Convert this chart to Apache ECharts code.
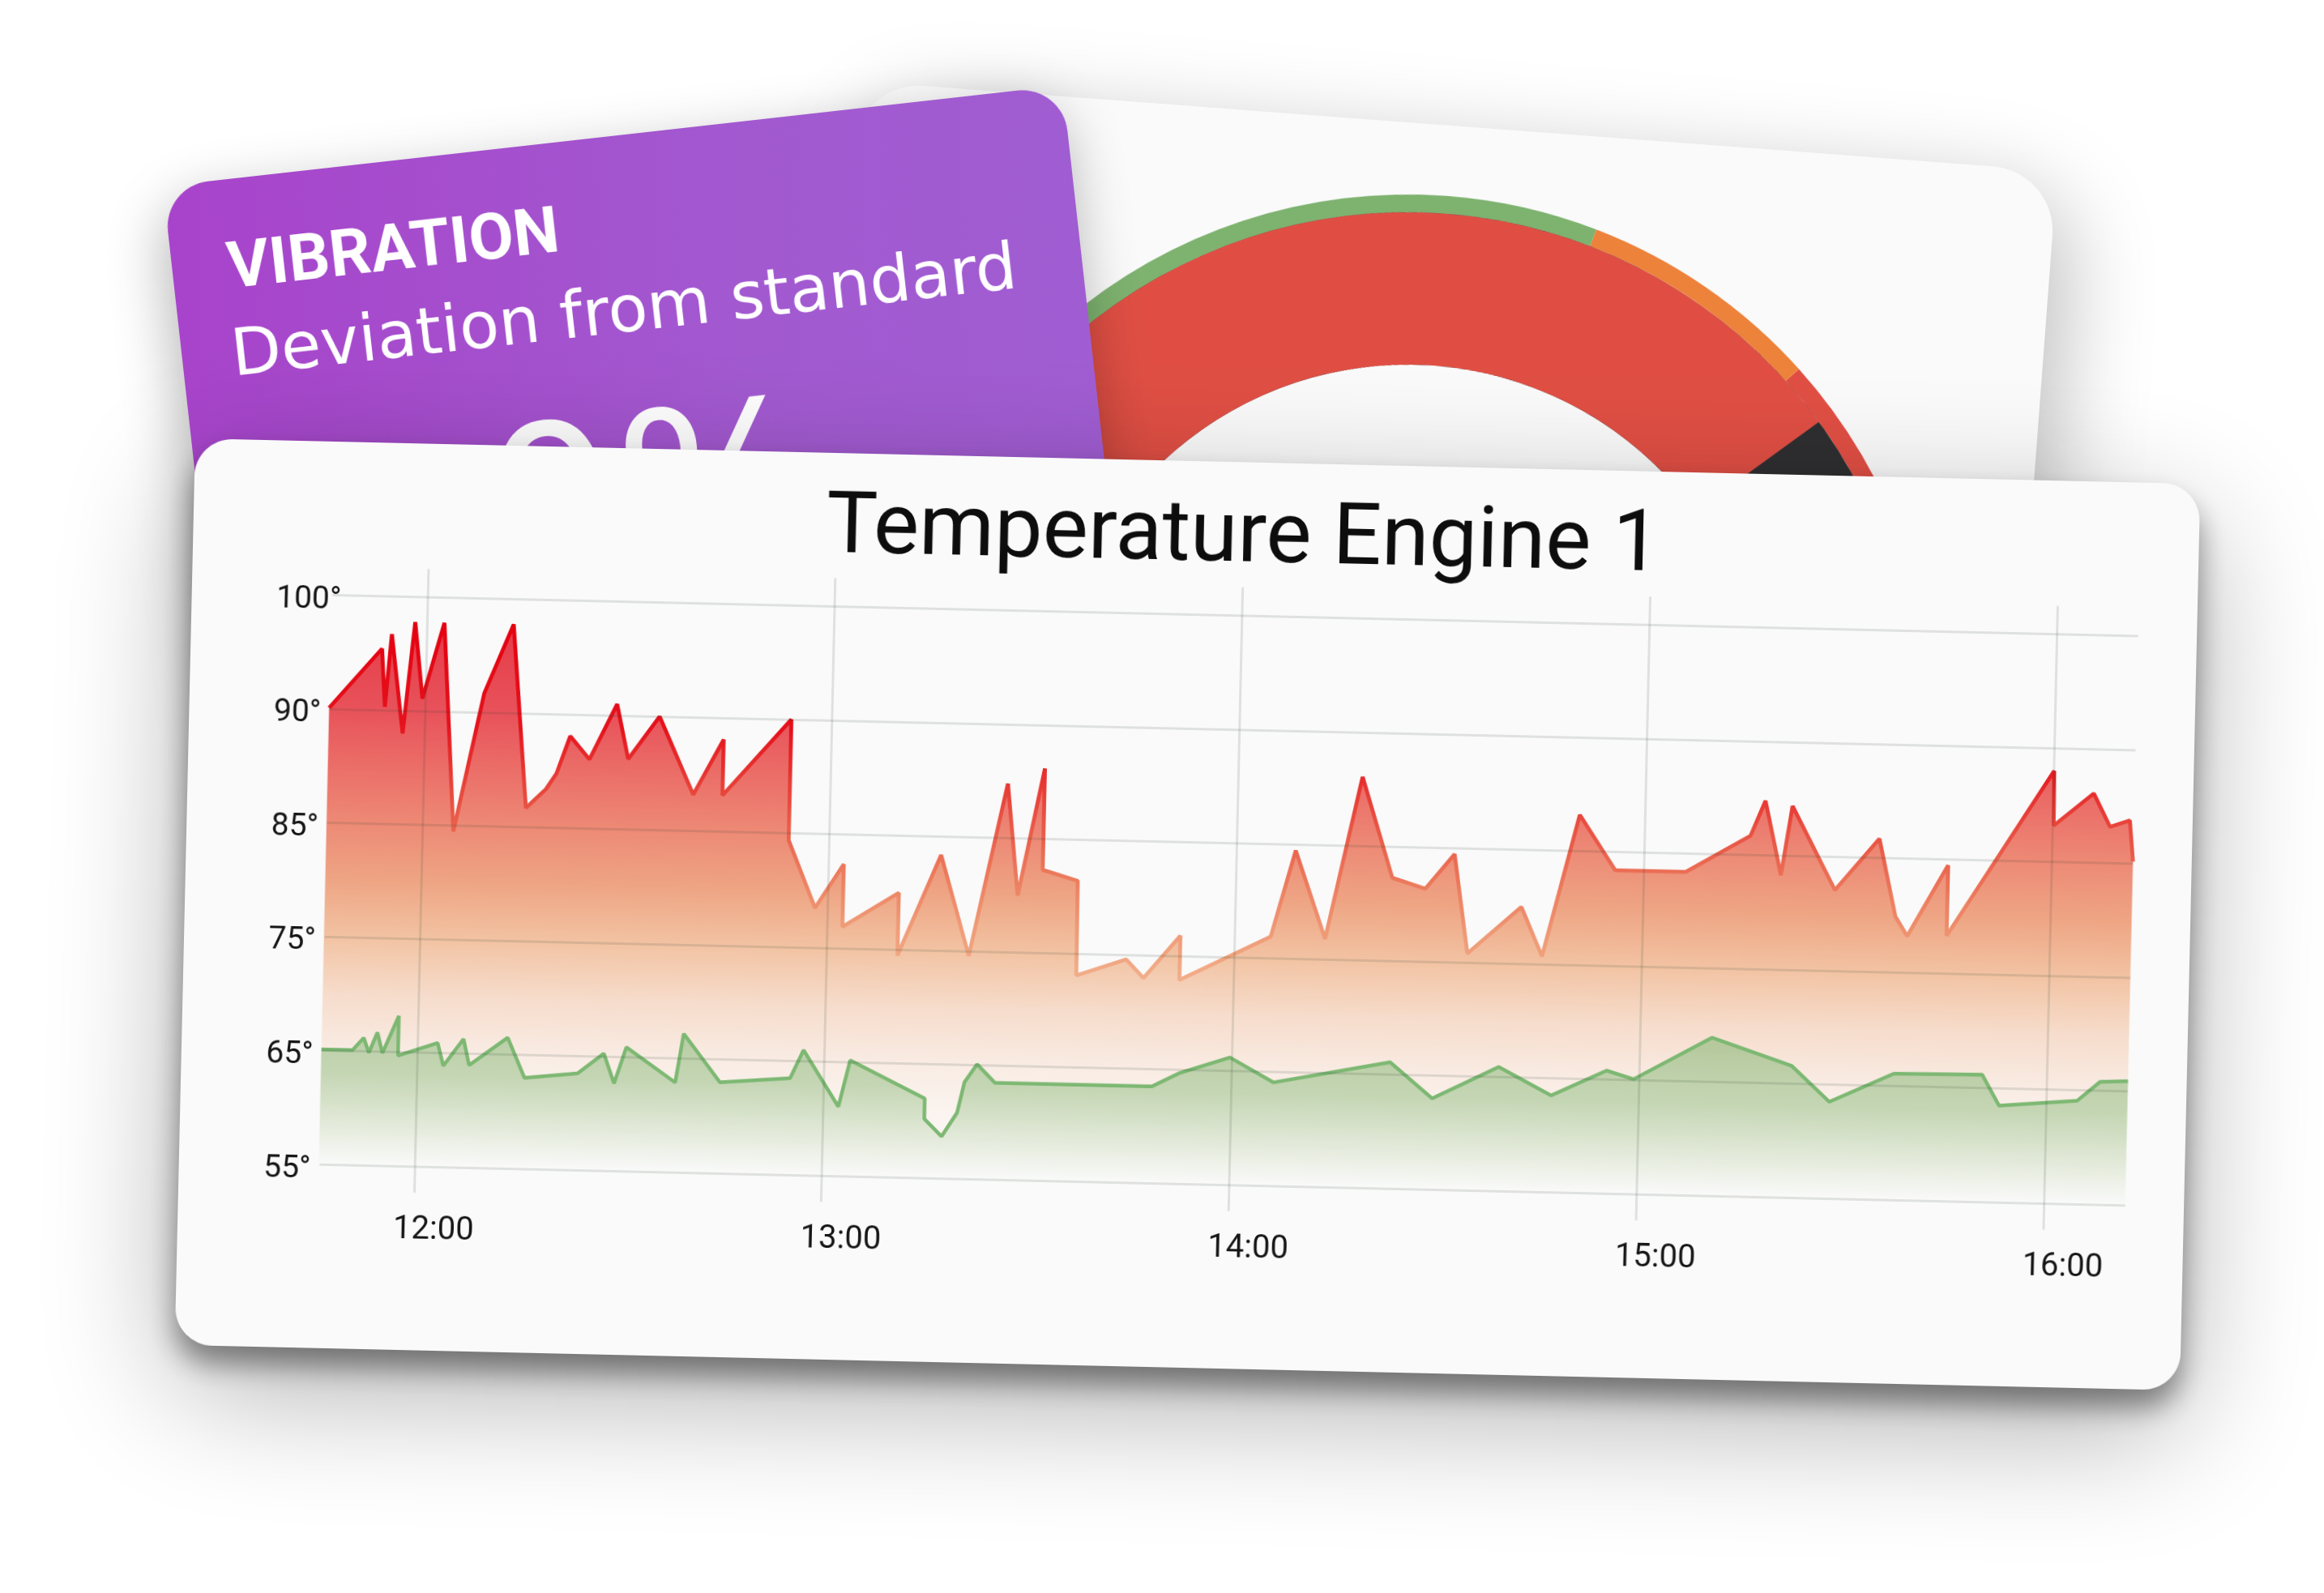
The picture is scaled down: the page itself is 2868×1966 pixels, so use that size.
<!DOCTYPE html>
<html>
<head>
<meta charset="utf-8">
<title>Temperature Engine 1</title>
<script src="https://cdn.jsdelivr.net/npm/echarts@6.0.0/dist/echarts.min.js"></script>
<style>
  html, body { margin: 0; padding: 0; background: #ffffff; }
  body { position: relative; width: 2868px; height: 1966px; overflow: hidden; }
  .card { position: absolute; overflow: hidden; background: #fafafa; }
  /* back card with the gauge */
  #gauge-card {
    left: 1060px; top: 99.9px; width: 1483px; height: 1100px;
    border-radius: 80px; transform-origin: 0 0; transform: rotate(4.3deg);
    box-shadow: 20px 30px 110px rgba(0, 0, 0, 0.26); z-index: 1;
  }
  /* purple vibration card */
  #vibration-card {
    left: 201px; top: 230px; width: 1117px; height: 900px;
    border-radius: 56px; transform-origin: 0 0; transform: rotate(-6.4deg);
    background: linear-gradient(95deg, #a843cb 0%, #a259d0 60%, #a05dd2 100%);
    box-shadow: -6px 24px 70px rgba(0, 0, 0, 0.3); z-index: 2;
  }
  /* front card with the line chart */
  #temp-card {
    left: 227.5px; top: 569.25px; width: 2475px; height: 1119px;
    border-radius: 46px; transform: rotate(1.3deg);
    box-shadow: 0 22px 34px rgba(0, 0, 0, 0.42), 0 50px 160px rgba(0, 0, 0, 0.32);
    z-index: 3;
  }
</style>
</head>
<body>
<div id="gauge-card" class="card"></div>
<div id="vibration-card" class="card"></div>
<div id="temp-card" class="card"></div>

<script>
// minutes after 12:00 and engine temperature
const redMinutes = [-14.1, -6.5, -5.9, -5.1, -3.2, -1.7, -0.4, 2.6, 4.6, 8.7, 12.8, 15.2, 18.1, 19.6, 21.5,
  24.4, 28.3, 30.1, 34.6, 39.8, 44.1, 44.1, 54.0, 54.0, 58.1, 62.2, 62.2, 70.4, 70.4, 76.5, 80.9,
  86.1, 87.9, 91.5, 91.5, 96.7, 96.8, 104.1, 106.7, 112.0, 112.0, 125.3, 128.7, 133.3, 138.3, 143.0,
  147.9, 152.1, 154.3, 162.1, 165.3, 170.4, 175.8, 186.2, 195.6, 197.7, 200.2, 201.7, 208.2, 214.6,
  217.2, 219.0, 224.8, 224.8, 240.1, 240.2, 246.0, 248.5, 251.4, 252.0]
const redValues = [90.1, 95.4, 90.3, 96.7, 88.0, 97.8, 91.1, 97.8, 79.5, 91.7, 97.8, 81.7, 83.4, 84.8, 88.1,
  86.1, 91.0, 86.2, 90.0, 83.2, 88.1, 83.2, 90.0, 79.4, 73.5, 77.4, 71.9, 75.0, 69.5, 78.4, 69.6,
  84.8, 75.0, 86.2, 77.3, 76.4, 68.1, 69.6, 68.0, 71.8, 67.9, 71.9, 79.5, 71.8, 86.1, 77.3,
  76.4, 79.5, 70.8, 75.0, 70.7, 83.2, 78.4, 78.4, 81.7, 84.8, 78.3, 84.4, 77.1, 81.7,
  74.9, 73.2, 79.5, 73.3, 88.0, 83.2, 86.1, 83.2, 83.8, 80.2]

// minutes after 12:00 and reference (green) temperature
const greenMinutes = [-14.1, -9.5, -7.9, -7.1, -5.9, -5.1, -2.8, -2.8, 3.0, 3.9, 6.8, 7.7, 13.3, 15.9, 23.7,
  27.5, 29.1, 30.8, 38.1, 39.2, 44.7, 55.0, 56.9, 62.2, 63.8, 74.9, 74.9, 77.5, 79.7, 80.7, 82.5,
  85.2, 108.3, 112.2, 119.7, 126.2, 143.3, 149.6, 159.3, 167.1, 175.2, 179.2, 190.6, 202.4, 208.1,
  217.5, 230.5, 233.1, 244.6, 247.9, 252.0]
const greenValues = [60.1, 60.1, 61.2, 59.9, 61.7, 59.9, 63.2, 59.7, 60.9, 58.9, 61.3, 59.0, 61.5, 58.0, 58.5,
  60.3, 57.7, 60.9, 57.9, 62.2, 58.0, 58.5, 61.0, 56.1, 60.2, 57.0, 55.2, 53.7, 55.8, 58.5, 60.1,
  58.5, 58.5, 59.7, 61.2, 59.1, 61.1, 58.0, 60.9, 58.5, 60.8, 60.1, 63.9, 61.6, 58.5,
  61.1, 61.2, 58.5, 59.1, 60.8, 60.9]

// y grid values and the labels printed next to them
const yTicks = [50, 60, 70, 80, 90, 100]
const yTickLabels = ['55°', '65°', '75°', '85°', '90°', '100°']

// gauge on the back card
const thresholdStops = [0.593, 0.743, 1]
const thresholdColors = ['#7eb26f', '#ed823a', '#e04e43']
const vibrationValue = 77.6
const vibrationText = '0%'

const gridColor = 'rgba(40, 60, 50, 0.13)'
const hidden = { show: false }

// ---------- back card: gauge ----------
const gaugeChart = echarts.init(document.getElementById('gauge-card'))
const gaugeBase = {
  type: 'gauge',
  center: [734, 737],
  startAngle: 180,
  endAngle: 0,
  min: 0,
  max: 100,
  pointer: hidden,
  axisTick: hidden,
  splitLine: hidden,
  axisLabel: hidden,
  title: hidden,
  detail: hidden,
  silent: true
}
gaugeChart.setOption({
  animation: false,
  series: [
    Object.assign({}, gaugeBase, {
      radius: 650,
      axisLine: {
        lineStyle: {
          width: 22,
          color: thresholdStops.map((s, i) => [s, thresholdColors[i]])
        }
      },
      data: [{ value: 0 }]
    }),
    Object.assign({}, gaugeBase, {
      radius: 628,
      progress: { show: true, width: 188, itemStyle: { color: '#e04e43' } },
      axisLine: { lineStyle: { width: 188, color: [[1, '#2e2e30']] } },
      data: [{ value: vibrationValue }]
    })
  ]
})

// ---------- purple card: texts ----------
const vibChart = echarts.init(document.getElementById('vibration-card'))
vibChart.setOption({
  animation: false,
  graphic: [
    {
      type: 'text', x: 68, y: 114,
      style: { text: 'VIBRATION', fill: '#ffffff', font: 'bold 80px Roboto', verticalAlign: 'middle' }
    },
    {
      type: 'text', x: 61, y: 221,
      style: { text: 'Deviation from standard', fill: '#ffffff', font: '80px "DejaVu Sans"', verticalAlign: 'middle' }
    },
    {
      type: 'text', x: 558, y: 464,
      style: { text: vibrationText, fill: '#ffffff', font: '260px "DejaVu Sans"', align: 'center', verticalAlign: 'middle' }
    }
  ]
})

// ---------- front card: temperature chart ----------
const tempChart = echarts.init(document.getElementById('temp-card'))
const base = new Date(2024, 0, 15, 12, 0, 0).getTime()
const minute = 60 * 1000
const toSeries = (mins, vals) => mins.map((m, i) => [base + m * minute, vals[i]])
const pad = n => (n < 10 ? '0' : '') + n

tempChart.setOption({
  animation: false,
  title: {
    text: 'Temperature Engine 1',
    left: 1296,
    top: 42,
    textAlign: 'center',
    padding: 0,
    textStyle: { fontFamily: 'Roboto', fontSize: 106, fontWeight: 'normal', color: '#0d0d0d' }
  },
  grid: { left: 173.5, right: 72.5, top: 154.5, bottom: 194.4 },
  xAxis: {
    type: 'time',
    min: base - 14 * minute,
    max: base + 252 * minute,
    minInterval: 3600 * 1000,
    maxInterval: 3600 * 1000,
    z: 5,
    axisLine: hidden,
    axisTick: hidden,
    splitLine: {
      show: true,
      showMinLine: false,
      showMaxLine: false,
      lineStyle: { color: gridColor, width: 3 }
    },
    axisLabel: {
      formatter: (val) => {
        const d = new Date(val)
        return d.getMinutes() === 0 ? pad(d.getHours()) + ':00' : ''
      },
      margin: 26,
      padding: [0, 0, 0, 50],
      fontFamily: 'Roboto',
      fontSize: 40,
      color: '#161616'
    }
  },
  yAxis: {
    type: 'value',
    min: 47.7,
    max: 102.5,
    axisLine: hidden,
    axisTick: hidden,
    splitLine: hidden,
    axisLabel: {
      customValues: yTicks,
      formatter: (v) => {
        const i = yTicks.indexOf(v)
        return i < 0 ? '' : yTickLabels[i]
      },
      align: 'left',
      verticalAlign: 'top',
      lineHeight: 13,
      margin: 69,
      fontFamily: 'Roboto',
      fontSize: 39,
      color: '#161616'
    }
  },
  series: [
    {
      name: 'Engine',
      type: 'line',
      data: toSeries(redMinutes, redValues),
      symbol: 'none',
      silent: true,
      lineStyle: {
        width: 4.8,
        color: new echarts.graphic.LinearGradient(0, 0, 0, 1, [
          { offset: 0, color: '#e4000f' },
          { offset: 0.3, color: '#e5121c' },
          { offset: 0.5, color: '#e84a3e' },
          { offset: 0.7, color: '#ec7a5c' },
          { offset: 0.85, color: '#ef9a76' },
          { offset: 1, color: '#f2ae8a' }
        ])
      },
      areaStyle: {
        origin: 50,
        opacity: 1,
        color: new echarts.graphic.LinearGradient(0, 0, 0, 1, [
          { offset: 0, color: '#e53b48' },
          { offset: 0.163, color: '#e8525a' },
          { offset: 0.268, color: '#eb6e68' },
          { offset: 0.373, color: '#ed8a76' },
          { offset: 0.477, color: '#eea584' },
          { offset: 0.582, color: '#f2c3a3' },
          { offset: 0.686, color: '#f6dccb' },
          { offset: 0.791, color: '#f9ece4' },
          { offset: 0.896, color: '#fbf5f1' },
          { offset: 1, color: '#fafafa' }
        ])
      }
    },
    {
      name: 'Reference',
      type: 'line',
      data: toSeries(greenMinutes, greenValues),
      symbol: 'none',
      silent: true,
      lineStyle: { width: 4.5, color: '#7db873' },
      areaStyle: {
        origin: 50,
        opacity: 1,
        color: new echarts.graphic.LinearGradient(0, 0, 0, 1, [
          { offset: 0, color: 'rgba(126, 180, 110, 0.55)' },
          { offset: 0.42, color: 'rgba(126, 180, 110, 0.43)' },
          { offset: 0.64, color: 'rgba(126, 180, 110, 0.27)' },
          { offset: 0.78, color: 'rgba(126, 180, 110, 0.16)' },
          { offset: 0.93, color: 'rgba(126, 180, 110, 0.05)' },
          { offset: 1, color: 'rgba(126, 180, 110, 0)' }
        ])
      },
      // horizontal grid lines, drawn over the areas
      markLine: {
        silent: true,
        symbol: ['none', 'none'],
        label: hidden,
        lineStyle: { color: gridColor, width: 3, type: 'solid' },
        data: yTicks.map(v => ({ yAxis: v }))
      }
    }
  ]
})
</script>
</body>
</html>
